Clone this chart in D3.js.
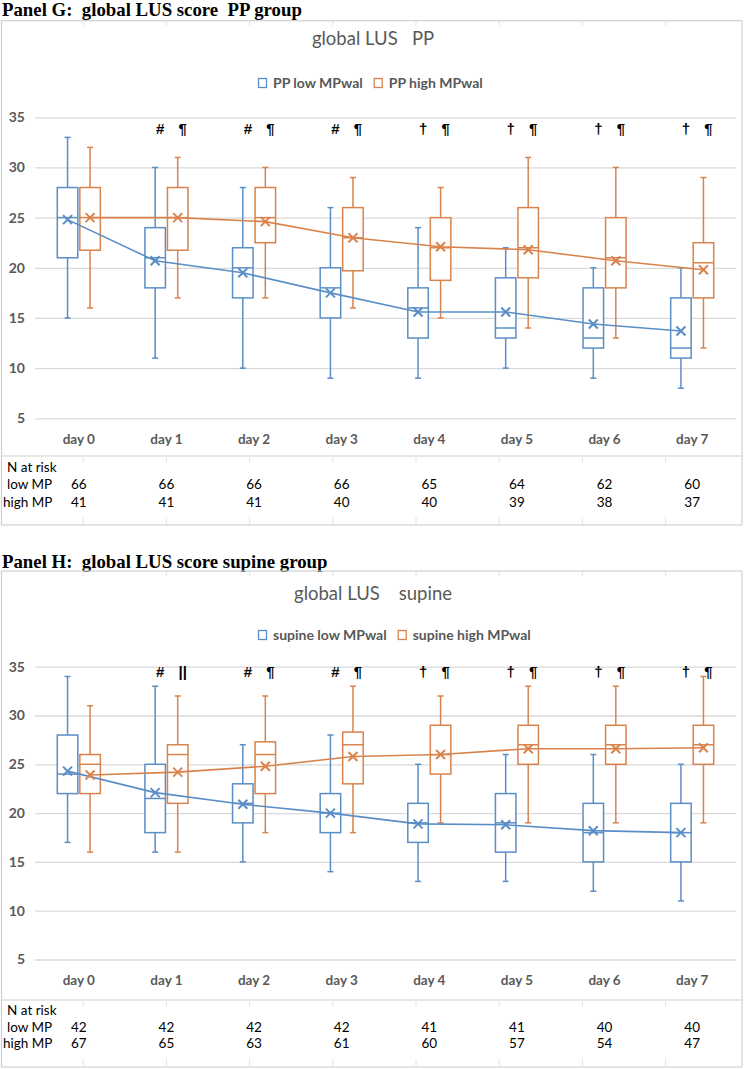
<!DOCTYPE html>
<html><head><meta charset="utf-8">
<script src="https://cdn.jsdelivr.net/npm/d3@7"></script>
<style>
body{margin:0;background:#fff;}
svg{display:block;}
</style></head><body>
<svg id="chart" width="750" height="1069"></svg>
<script>
// ---------- data ----------
const days = ["day 0","day 1","day 2","day 3","day 4","day 5","day 6","day 7"];
const yTicks = [5,10,15,20,25,30,35];
const tableRowLabels = ["N at risk","low MP","high MP"];

// Panel G (PP group)
const ppLowMin   = [15,11,10, 9, 9,10, 9, 8];
const ppLowQ1    = [21,18,17,15,13,13,12,11];
const ppLowMed   = [25,21,20,18,16,14,13,12];
const ppLowQ3    = [28,24,22,20,18,19,18,17];
const ppLowMax   = [33,30,28,26,24,22,20,20];
const ppLowMean  = [24.8,20.7,19.5,17.5,15.6,15.6,14.4,13.7];

const ppHighMin  = [16,17,17,16,15,14,13,12];
const ppHighQ1   = [21.75,21.75,22.5,19.7,18.75,19,18,17];
const ppHighMed  = [25,25,25,23,22,22,21,20.5];
const ppHighQ3   = [28,28,28,26,25,26,25,22.5];
const ppHighMax  = [32,31,30,29,28,31,30,29];
const ppHighMean = [25,25,24.6,23,22.1,21.8,20.7,19.8];

const ppMarkLow  = ["","#","#","#","\u2020","\u2020","\u2020","\u2020"];
const ppMarkHigh = ["","\u00b6","\u00b6","\u00b6","\u00b6","\u00b6","\u00b6","\u00b6"];
const ppNLow  = [66,66,66,66,65,64,62,60];
const ppNHigh = [41,41,41,40,40,39,38,37];

// Panel H (supine group)
const supLowMin   = [17,16,15,14,13,13,12,11];
const supLowQ1    = [22,18,19,18,17,16,15,15];
const supLowMed   = [24,21.5,21,20,19,19,18,18];
const supLowQ3    = [28,25,23,22,21,22,21,21];
const supLowMax   = [34,33,27,28,25,26,26,25];
const supLowMean  = [24.3,22.1,20.9,20,18.9,18.8,18.2,18];

const supHighMin  = [16,16,18,18,19,19,19,19];
const supHighQ1   = [22,21,22,23,24,25,25,25];
const supHighMed  = [25,26,26,27,26,27,27,27];
const supHighQ3   = [26,27,27.3,28.3,29,29,29,29];
const supHighMax  = [31,32,32,33,32,33,33,34];
const supHighMean = [23.9,24.2,24.8,25.8,26,26.6,26.6,26.7];

const supMarkLow  = ["","#","#","#","\u2020","\u2020","\u2020","\u2020"];
const supMarkHigh = ["","||","\u00b6","\u00b6","\u00b6","\u00b6","\u00b6","\u00b6"];
const supNLow  = [42,42,42,42,41,41,40,40];
const supNHigh = [67,65,63,61,60,57,54,47];

// ---------- drawing ----------
const svg = d3.select("#chart");
const BLUE = "#5b8ec6", ORANGE = "#d9834c", GRID = "#d9d9d9", FRAME = "#d0d0d0", TXT = "#595959";
const FONT = "Lato, 'Open Sans', sans-serif";

function series(key, color, name, min, q1, med, q3, max, mean, marks) {
  return {key, color, name, marks,
    rows: days.map((d,i) => ({day:d, min:min[i], q1:q1[i], med:med[i], q3:q3[i], max:max[i], mean:mean[i], mark:marks[i]}))};
}

const panels = [
  {label:"Panel G:  global LUS score  PP group", title:"global LUS   PP",
   labelY:15.5, top:20.7, tableLine:456, bottom:525, yRange:[418.3,117.3],
   titleY:45, legendY:83, legendX:258, markY:134, rowY:[472,489,507],
   series:[series("low",BLUE,"PP low MPwal",ppLowMin,ppLowQ1,ppLowMed,ppLowQ3,ppLowMax,ppLowMean,ppMarkLow),
           series("high",ORANGE,"PP high MPwal",ppHighMin,ppHighQ1,ppHighMed,ppHighQ3,ppHighMax,ppHighMean,ppMarkHigh)],
   nLow:ppNLow, nHigh:ppNHigh},
  {label:"Panel H:  global LUS score supine group", title:"global LUS    supine",
   labelY:567.5, top:571, tableLine:1000, bottom:1067, yRange:[959.5,666.7],
   titleY:600, legendY:635, legendX:258, markY:677, rowY:[1015,1032,1048],
   series:[series("low",BLUE,"supine low MPwal",supLowMin,supLowQ1,supLowMed,supLowQ3,supLowMax,supLowMean,supMarkLow),
           series("high",ORANGE,"supine high MPwal",supHighMin,supHighQ1,supHighMed,supHighQ3,supHighMax,supHighMean,supMarkHigh)],
   nLow:supNLow, nHigh:supNHigh}
];

const x = d3.scaleBand().domain(days).range([35,736]);
const xi = d3.scaleBand().domain(["low","high"]).range([0,x.bandwidth()]).paddingInner(0.09).paddingOuter(0.99);
const cell = d3.scaleLinear().domain([0,1]).range([0,83.2]);

panels.forEach(p => {
  const g = svg.append("g");
  const y = d3.scaleLinear().domain([5,35]).range(p.yRange);

  // panel label
  g.append("text").attr("x",2).attr("y",p.labelY).text(p.label)
    .attr("font-family","'Liberation Serif', 'Times New Roman', serif")
    .attr("font-weight","bold").attr("font-size",18.8).attr("fill","#000")
    .style("white-space","pre").attr("xml:space","preserve");

  // frame + table line
  g.append("rect").attr("x",1.5).attr("y",p.top).attr("width",740.5).attr("height",p.bottom-p.top)
    .attr("fill","none").attr("stroke",FRAME).attr("stroke-width",1.2);
  g.append("line").attr("x1",1.5).attr("x2",742).attr("y1",p.tableLine).attr("y2",p.tableLine)
    .attr("stroke",FRAME).attr("stroke-width",1.2);
  const cellIdx = d3.range(1,9);
  [[p.top,p.top+5],[p.tableLine,p.tableLine+6],[p.bottom-8,p.bottom]].forEach(([a,b]) => {
    g.append("g").selectAll("line").data(cellIdx).join("line")
      .attr("x1",d=>cell(d)).attr("x2",d=>cell(d)).attr("y1",a).attr("y2",b)
      .attr("stroke","#e2e2e2").attr("stroke-width",1);
  });

  // grid
  const grid = g.append("g").attr("transform","translate(35,0)")
    .call(d3.axisLeft(y).tickValues(yTicks).tickSize(-701).tickFormat(""));
  grid.select(".domain").remove();
  grid.selectAll("line").attr("stroke",GRID).attr("stroke-width",1.3);

  // y labels
  const ya = g.append("g").attr("transform","translate(35,0)")
    .call(d3.axisLeft(y).tickValues(yTicks).tickSize(0).tickPadding(10));
  ya.select(".domain").remove();
  ya.selectAll("text").attr("font-family",FONT).attr("font-size",14).attr("font-weight","bold").attr("fill",TXT);

  // x labels
  const xa = g.append("g").attr("transform",`translate(0,${y(5)})`)
    .call(d3.axisBottom(x).tickSize(0).tickPadding(16));
  xa.select(".domain").remove();
  xa.selectAll("text").attr("font-family",FONT).attr("font-size",13.5).attr("font-weight","bold").attr("fill",TXT);

  // boxes
  const bw = xi.bandwidth();
  p.series.forEach(s => {
    const cx = d => x(d.day) + xi(s.key) + bw/2;
    const sg = g.append("g").attr("stroke",s.color).attr("fill","none").attr("stroke-width",1.5);
    sg.selectAll(".wt").data(s.rows).join("line").attr("x1",cx).attr("x2",cx).attr("y1",d=>y(d.max)).attr("y2",d=>y(d.q3));
    sg.selectAll(".wb").data(s.rows).join("line").attr("x1",cx).attr("x2",cx).attr("y1",d=>y(d.q1)).attr("y2",d=>y(d.min));
    sg.selectAll(".ct").data(s.rows).join("line").attr("x1",d=>cx(d)-3).attr("x2",d=>cx(d)+3).attr("y1",d=>y(d.max)).attr("y2",d=>y(d.max));
    sg.selectAll(".cb").data(s.rows).join("line").attr("x1",d=>cx(d)-3).attr("x2",d=>cx(d)+3).attr("y1",d=>y(d.min)).attr("y2",d=>y(d.min));
    sg.selectAll(".bx").data(s.rows).join("rect").attr("x",d=>cx(d)-bw/2).attr("width",bw)
      .attr("y",d=>y(d.q3)).attr("height",d=>y(d.q1)-y(d.q3)).attr("fill","#fff");
    sg.selectAll(".md").data(s.rows).join("line").attr("x1",d=>cx(d)-bw/2).attr("x2",d=>cx(d)+bw/2)
      .attr("y1",d=>y(d.med)).attr("y2",d=>y(d.med));
  });
  // mean lines + markers
  p.series.forEach(s => {
    const cx = d => x(d.day) + xi(s.key) + bw/2;
    g.append("path").datum(s.rows)
      .attr("d",d3.line().x(cx).y(d=>y(d.mean)))
      .attr("fill","none").attr("stroke",s.color).attr("stroke-width",1.6);
    const m = g.append("g").attr("stroke",s.color).attr("stroke-width",2);
    const r = 4.5;
    m.selectAll(".m1").data(s.rows).join("line").attr("x1",d=>cx(d)-r).attr("x2",d=>cx(d)+r).attr("y1",d=>y(d.mean)-r).attr("y2",d=>y(d.mean)+r);
    m.selectAll(".m2").data(s.rows).join("line").attr("x1",d=>cx(d)-r).attr("x2",d=>cx(d)+r).attr("y1",d=>y(d.mean)+r).attr("y2",d=>y(d.mean)-r);
    // significance marks
    g.append("g").selectAll("text").data(s.rows).join("text")
      .attr("x",d=>cx(d)+5).attr("y",p.markY).attr("text-anchor","middle")
      .attr("font-family","'Liberation Sans', 'DejaVu Sans', sans-serif").attr("font-weight","bold")
      .attr("font-size",15).attr("fill","#000")
      .text(d=>d.mark);
  });

  // title
  g.append("text").attr("x",373).attr("y",p.titleY).attr("text-anchor","middle")
    .attr("font-family",FONT).attr("font-size",18.5).attr("fill",TXT)
    .style("white-space","pre").attr("xml:space","preserve").text(p.title);

  // legend
  let lx = p.legendX;
  p.series.forEach(s => {
    g.append("rect").attr("x",lx+0.5).attr("y",p.legendY-4.5).attr("width",8).attr("height",9)
      .attr("fill","#fff").attr("stroke",s.color).attr("stroke-width",1.3);
    const t = g.append("text").attr("x",lx+15).attr("y",p.legendY+5)
      .attr("font-family",FONT).attr("font-size",14).attr("font-weight","bold").attr("fill",TXT).text(s.name);
    lx = lx + 15 + t.node().getComputedTextLength() + 11;
  });

  // N at risk table
  const tf = {family:FONT, size:13.5};
  tableRowLabels.forEach((lab,i) => {
    g.append("text").attr("x",i===2?3:7).attr("y",p.rowY[i]).attr("font-family",tf.family)
      .attr("font-size",tf.size).attr("fill","#000").text(lab);
  });
  [[p.nLow,1],[p.nHigh,2]].forEach(([arr,ri]) => {
    g.append("g").selectAll("text").data(arr).join("text")
      .attr("x",(d,i)=>x(days[i])+x.bandwidth()/2).attr("y",p.rowY[ri]).attr("text-anchor","middle")
      .attr("font-family",tf.family).attr("font-size",tf.size).attr("fill","#000").text(d=>d);
  });
});
</script>
</body></html>
